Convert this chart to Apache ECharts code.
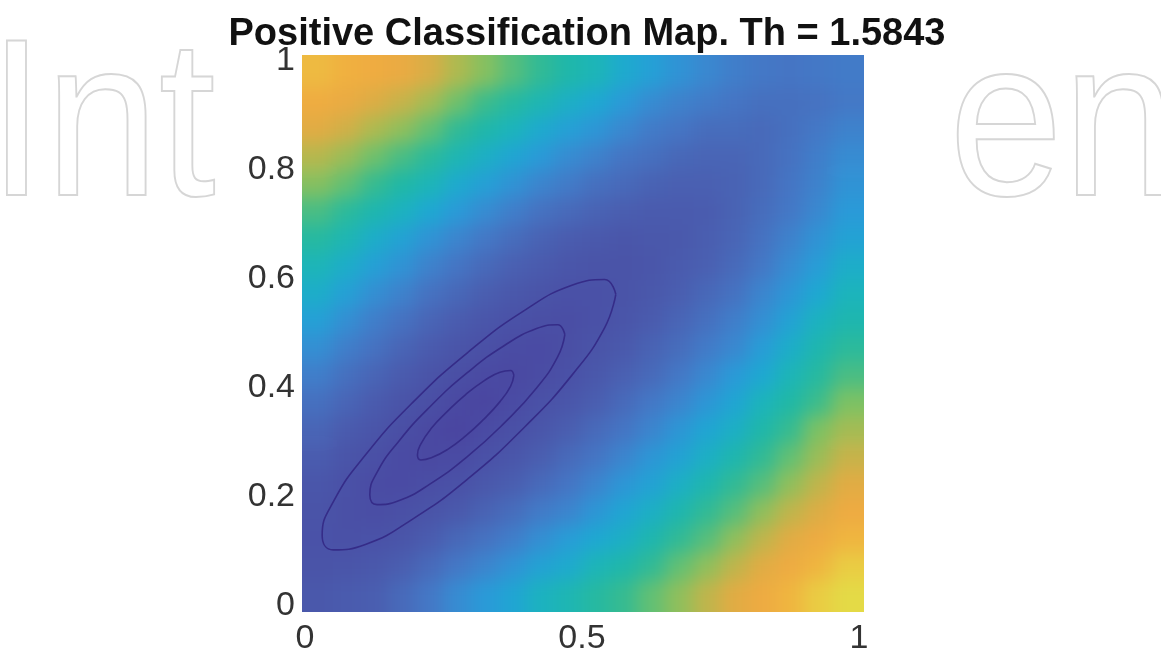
<!DOCTYPE html>
<html>
<head>
<meta charset="utf-8">
<title>Positive Classification Map</title>
<script src="https://cdn.jsdelivr.net/npm/echarts@6/dist/echarts.min.js"></script>
<style>
  html, body { margin: 0; padding: 0; background: #fff; }
  #page { position: relative; width: 1161px; height: 656px; overflow: hidden; }
  /* the colour map sits in its own clipped box, softened a little like the image */
  #heatWrap { position: absolute; left: 302px; top: 55px; width: 562px; height: 557px; overflow: hidden; z-index: 0; }
  #heat { position: absolute; left: -40px; top: -40px; width: 642px; height: 637px; filter: blur(9px); }
  #chart { position: absolute; left: 0; top: 0; width: 1161px; height: 656px; z-index: 1; }
</style>
</head>
<body>
<div id="page">
  <div id="heatWrap"><div id="heat"></div></div>
  <div id="chart"></div>
</div>
<script>
// cell centres of the map (20 x 20 cells over [0, 1])
const xCenters = [0.025, 0.075, 0.125, 0.175, 0.225, 0.275, 0.325, 0.375, 0.425, 0.475,
  0.525, 0.575, 0.625, 0.675, 0.725, 0.775, 0.825, 0.875, 0.925, 0.975]
const yCenters = [0.025, 0.075, 0.125, 0.175, 0.225, 0.275, 0.325, 0.375, 0.425, 0.475,
  0.525, 0.575, 0.625, 0.675, 0.725, 0.775, 0.825, 0.875, 0.925, 0.975]

// map level, 0 = dark blue ... 1 = yellow
// rows go from the top (y = 0.975) down to the bottom (y = 0.025)
const heatRows = [
  [.87, .85, .82, .79, .75, .70, .66, .62, .58, .54, .51, .46, .42, .38, .35, .32, .30, .29, .30, .31],
  [.82, .79, .76, .73, .69, .64, .60, .56, .52, .48, .45, .40, .36, .33, .31, .29, .27, .27, .28, .30],
  [.77, .74, .70, .67, .63, .58, .54, .50, .46, .42, .39, .35, .31, .29, .26, .26, .25, .27, .30, .33],
  [.71, .68, .64, .61, .57, .52, .48, .44, .40, .36, .33, .29, .27, .24, .23, .23, .25, .28, .32, .36],
  [.66, .63, .59, .55, .51, .46, .42, .38, .34, .31, .27, .25, .22, .21, .21, .22, .25, .29, .33, .38],
  [.61, .57, .53, .49, .45, .40, .36, .32, .28, .25, .22, .20, .18, .18, .19, .22, .26, .30, .35, .40],
  [.56, .52, .47, .43, .38, .34, .30, .26, .22, .19, .17, .15, .16, .17, .20, .23, .28, .33, .38, .43],
  [.51, .47, .42, .38, .33, .29, .25, .21, .18, .15, .13, .13, .15, .18, .21, .25, .30, .36, .41, .47],
  [.47, .42, .37, .33, .28, .24, .20, .16, .13, .11, .11, .13, .16, .20, .24, .28, .34, .39, .45, .50],
  [.42, .37, .32, .28, .23, .19, .15, .11, .09, .08, .11, .14, .18, .23, .27, .32, .37, .43, .49, .53],
  [.37, .32, .28, .23, .18, .14, .10, .07, .06, .09, .13, .17, .22, .26, .31, .35, .41, .47, .53, .57],
  [.32, .27, .23, .18, .13, .09, .05, .04, .07, .11, .16, .21, .25, .30, .35, .40, .45, .51, .56, .61],
  [.27, .23, .18, .13, .09, .04, .02, .06, .11, .15, .20, .25, .30, .34, .39, .44, .50, .55, .60, .65],
  [.23, .18, .14, .09, .04, .01, .06, .10, .15, .20, .25, .29, .34, .39, .44, .48, .54, .59, .65, .69],
  [.19, .14, .10, .06, .04, .06, .11, .15, .20, .25, .29, .34, .39, .43, .48, .53, .58, .63, .68, .73],
  [.15, .11, .07, .06, .08, .11, .16, .20, .25, .29, .34, .39, .43, .48, .53, .58, .62, .67, .72, .77],
  [.13, .10, .08, .10, .13, .17, .22, .26, .31, .34, .39, .44, .48, .53, .58, .62, .67, .72, .76, .81],
  [.12, .11, .12, .14, .19, .24, .28, .32, .37, .41, .45, .48, .53, .58, .62, .67, .72, .77, .81, .86],
  [.13, .14, .16, .20, .25, .30, .34, .38, .43, .46, .51, .54, .58, .63, .67, .72, .77, .81, .86, .91],
  [.16, .18, .20, .25, .30, .36, .40, .44, .49, .52, .56, .59, .63, .67, .72, .77, .81, .86, .91, .95],
]

// the three contour ellipses
const outerRing = [[0.561, 0.572], [0.541, 0.599], [0.483, 0.589], [0.397, 0.543], [0.296, 0.467],
  [0.195, 0.374], [0.109, 0.277], [0.051, 0.191], [0.031, 0.130], [0.051, 0.103], [0.109, 0.113],
  [0.195, 0.160], [0.296, 0.235], [0.397, 0.329], [0.483, 0.425], [0.541, 0.511], [0.561, 0.572]]
const middleRing = [[0.469, 0.498], [0.456, 0.516], [0.418, 0.509], [0.360, 0.478], [0.293, 0.428],
  [0.226, 0.366], [0.169, 0.302], [0.130, 0.245], [0.117, 0.204], [0.130, 0.186], [0.169, 0.193],
  [0.226, 0.224], [0.293, 0.274], [0.360, 0.336], [0.418, 0.400], [0.456, 0.457], [0.469, 0.498]]
const innerRing = [[0.377, 0.423], [0.371, 0.432], [0.352, 0.429], [0.323, 0.413], [0.290, 0.388],
  [0.257, 0.357], [0.228, 0.326], [0.209, 0.297], [0.203, 0.277], [0.209, 0.268], [0.228, 0.272],
  [0.257, 0.287], [0.290, 0.312], [0.323, 0.343], [0.352, 0.375], [0.371, 0.403], [0.377, 0.423]]

// parula-like colours (0 to 1 in steps of 0.05), washed out as in the picture
const mapColors = ['#4a44a0', '#4a4aa3', '#4a50a6', '#4a56aa', '#4a5eb0', '#486aba', '#4478c6',
  '#3a88d0', '#2a9ad8', '#1ea8d2', '#1cb4bc', '#20b8a6', '#3cbc8c', '#7cc264', '#aeba50',
  '#d8ae46', '#eeaa42', '#f0b040', '#ecc842', '#e4da46', '#e0e44a']

const cellHalf = 0.025
const edgeExtra = 0.1 // edge cells run out under the blur margin

// flatten rows into [x, y, level]
const heatData = []
heatRows.forEach((row, r) => {
  const y = yCenters[yCenters.length - 1 - r]
  row.forEach((v, c) => {
    heatData.push([xCenters[c], y, v])
  })
})

const fontFamily = 'Liberation Sans, Arial, sans-serif'
const labelFont = { fontFamily: fontFamily, fontSize: 34, color: '#333' }

const hiddenAxis = {
  type: 'value',
  min: 0,
  max: 1,
  show: false,
}

// ---- colour map (drawn underneath) ----
const heatChart = echarts.init(document.getElementById('heat'))
heatChart.setOption({
  animation: false,
  grid: { left: 43, right: 45, top: 46, bottom: 45 },
  xAxis: hiddenAxis,
  yAxis: hiddenAxis,
  visualMap: {
    show: false,
    type: 'continuous',
    min: 0,
    max: 1,
    dimension: 2,
    inRange: { color: mapColors },
  },
  series: [
    {
      type: 'custom',
      data: heatData,
      silent: true,
      clip: false,
      renderItem: (params, api) => {
        const x = api.value(0)
        const y = api.value(1)
        const left = x - cellHalf - (x === xCenters[0] ? edgeExtra : 0)
        const right = x + cellHalf + (x === xCenters[xCenters.length - 1] ? edgeExtra : 0)
        const bottom = y - cellHalf - (y === yCenters[0] ? edgeExtra : 0)
        const top = y + cellHalf + (y === yCenters[yCenters.length - 1] ? edgeExtra : 0)
        const p0 = api.coord([left, top])
        const p1 = api.coord([right, bottom])
        return {
          type: 'rect',
          shape: {
            x: p0[0],
            y: p0[1],
            width: p1[0] - p0[0] + 0.6,
            height: p1[1] - p0[1] + 0.6,
          },
          style: { fill: api.visual('color') },
        }
      },
    },
  ],
})

// ---- title, axes and contours (drawn on top) ----
const chart = echarts.init(document.getElementById('chart'))

const ringSeries = [outerRing, middleRing, innerRing].map((ring) => ({
  type: 'line',
  data: ring,
  smooth: 0.5,
  symbol: 'none',
  silent: true,
  lineStyle: { color: '#352c88', width: 1.6 },
}))

const watermarkStyle = {
  font: '225px "Liberation Sans", Arial, sans-serif',
  fill: 'rgba(0,0,0,0)',
  stroke: '#d6d6d6',
  lineWidth: 2,
}

chart.setOption({
  animation: false,
  backgroundColor: 'transparent',
  title: {
    text: 'Positive Classification Map. Th = 1.5843',
    left: 582,
    textAlign: 'center',
    top: 11,
    textStyle: {
      fontFamily: fontFamily,
      fontWeight: 'bold',
      fontSize: 38,
      color: '#111',
    },
  },
  // faint watermark letters behind the figure
  graphic: [
    {
      type: 'text',
      x: -12,
      y: 20,
      scaleX: 0.91,
      silent: true,
      style: { text: 'Int', ...watermarkStyle },
    },
    {
      type: 'text',
      x: 949,
      y: 20,
      scaleX: 0.91,
      silent: true,
      style: { text: 'en', ...watermarkStyle },
    },
  ],
  grid: {
    left: 305,
    right: 302,
    top: 61,
    bottom: 49,
  },
  xAxis: {
    type: 'value',
    min: 0,
    max: 1,
    interval: 0.5,
    axisLine: { show: false },
    axisTick: { show: false },
    splitLine: { show: false },
    axisLabel: { ...labelFont, margin: 16 },
  },
  yAxis: {
    type: 'value',
    min: 0,
    max: 1,
    interval: 0.2,
    axisLine: { show: false },
    axisTick: { show: false },
    splitLine: { show: false },
    axisLabel: { ...labelFont, margin: 10 },
  },
  series: ringSeries,
})
</script>
</body>
</html>
